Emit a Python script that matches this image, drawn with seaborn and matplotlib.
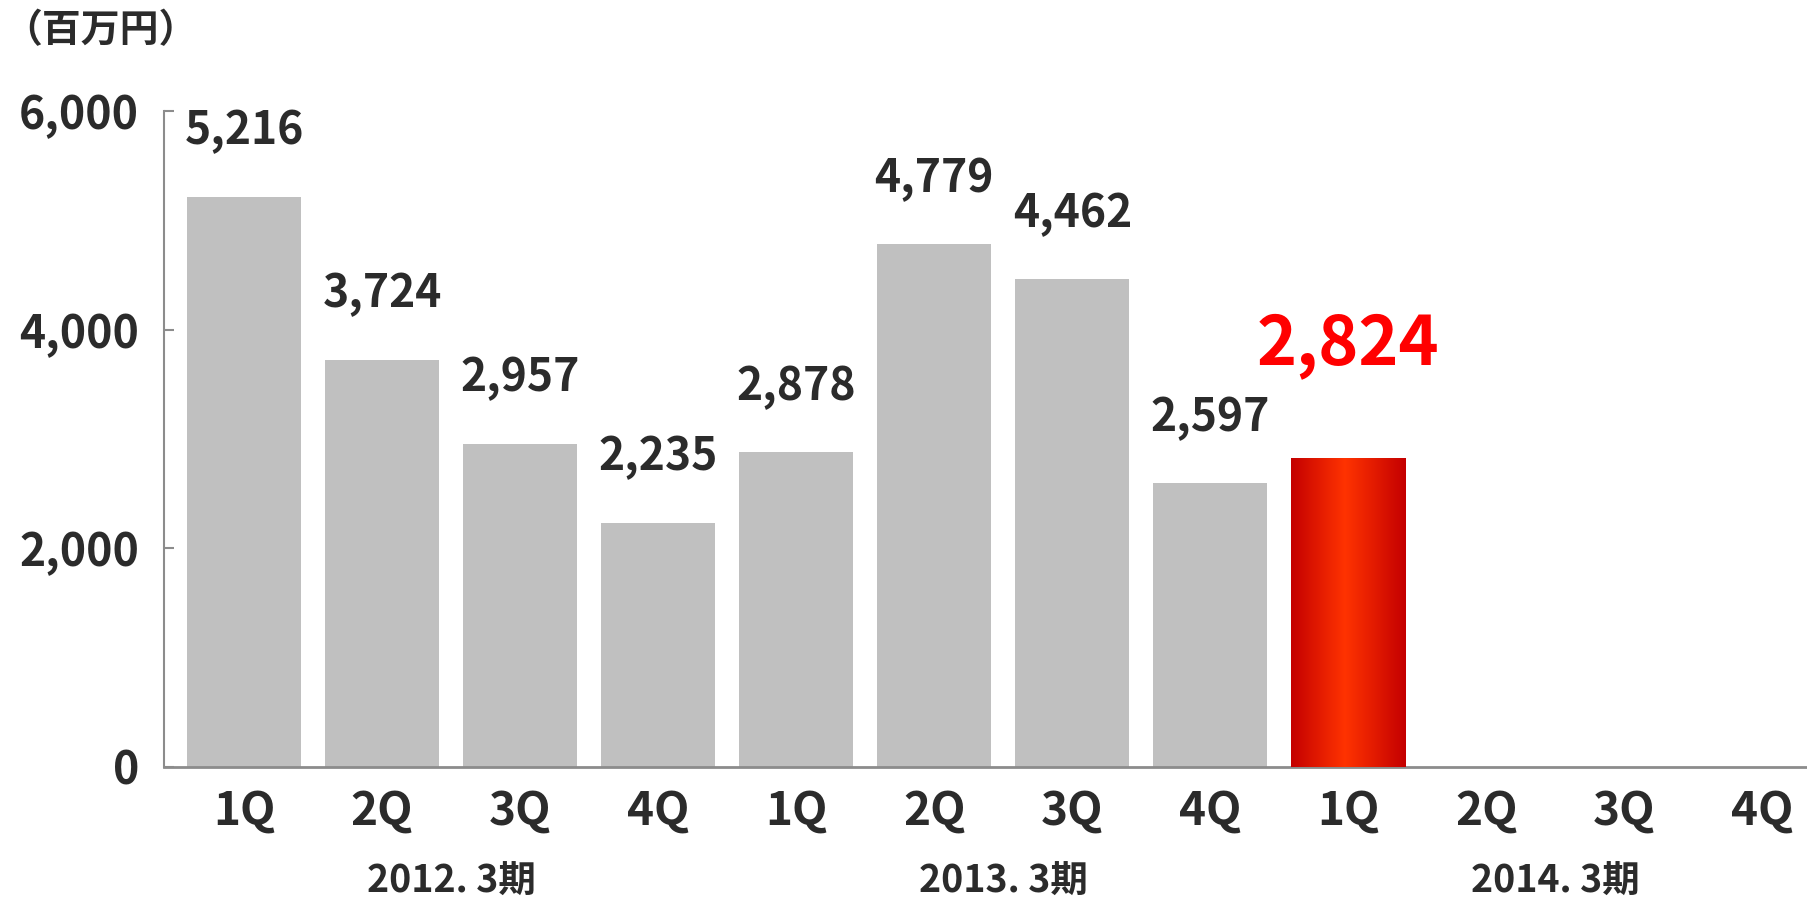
import numpy as np
import pandas as pd
import matplotlib
matplotlib.use("Agg")
import matplotlib.pyplot as plt
from matplotlib.colors import LinearSegmentedColormap
import seaborn as sns

# Quarterly figures (unit: million yen)
periods = ["2012. 3期", "2013. 3期", "2014. 3期"]
quarters = ["1Q", "2Q", "3Q", "4Q"]
values = [5216, 3724, 2957, 2235,
          2878, 4779, 4462, 2597,
          2824, np.nan, np.nan, np.nan]
highlight_index = 8
y_ticks = [0, 2000, 4000, 6000]
unit_label = "（百万円）"

sns.set_theme(style="white")
plt.rcParams["font.family"] = ["Noto Sans CJK JP", "DejaVu Sans"]
plt.rcParams["font.weight"] = "bold"

text_color = "#2b2b2b"
axis_gray = "#8c8c8c"
bar_gray = "#c0c0c0"

keys = [f"{p} {q}" for p in periods for q in quarters]
df = pd.DataFrame({
    "key": keys,
    "period": [p for p in periods for _ in quarters],
    "quarter": [q for _ in periods for q in quarters],
    "value": values,
})
palette = {k: bar_gray for k in keys}
palette[keys[highlight_index]] = "#e01a00"

fig = plt.figure(figsize=(18.08, 8.98), dpi=100)
ax = fig.add_axes([0.0907, 0.1459, 0.9093, 0.7305])

sns.barplot(data=df, x="key", y="value", hue="key", order=keys,
            palette=palette, width=0.826, legend=False, ax=ax,
            saturation=1, linewidth=0)

# Horizontal gradient fill on the highlighted bar
grad = LinearSegmentedColormap.from_list(
    "redgrad", [(0.0, "#c40000"), (0.47, "#ff3300"), (1.0, "#c40000")])
bar = [p for p in ax.patches if p.get_height() > 0][highlight_index]
x0, w, h = bar.get_x(), bar.get_width(), bar.get_height()
img = ax.imshow(np.linspace(0, 1, 256).reshape(1, -1), cmap=grad,
                extent=[x0, x0 + w, 0, h], aspect="auto", zorder=3,
                interpolation="bicubic")
img.set_clip_path(bar)

ax.set_xlim(-0.58, 11.33)
ax.set_ylim(0, 6000)
ax.set_yticks(y_ticks)
ax.set_yticklabels([f"{t:,}" for t in y_ticks])
ax.set_xticks(range(len(keys)))
ax.set_xticklabels(df["quarter"])
ax.set_xlabel("")
ax.set_ylabel("")

for side in ["top", "right"]:
    ax.spines[side].set_visible(False)
ax.spines["left"].set_color(axis_gray)
ax.spines["left"].set_linewidth(1.5)
ax.spines["bottom"].set_color(axis_gray)
ax.spines["bottom"].set_linewidth(2.0)

ax.tick_params(axis="y", direction="in", length=7, width=1.5, color=axis_gray,
               left=True, pad=18, labelsize=32, labelcolor=text_color)
ax.tick_params(axis="x", length=0, pad=15.5, labelsize=33, labelcolor=text_color)
for lbl in ax.get_xticklabels() + ax.get_yticklabels():
    lbl.set_fontweight("bold")

# Value labels above the bars
for i, v in enumerate(values):
    if np.isnan(v):
        continue
    if i == highlight_index:
        ax.annotate(f"{int(v):,}", (i, v), xytext=(0, 82),
                    textcoords="offset points", ha="center", va="center",
                    fontsize=49, fontweight="bold", color="#ff0000")
    else:
        ax.annotate(f"{int(v):,}", (i, v), xytext=(0, 47),
                    textcoords="offset points", ha="center", va="center",
                    fontsize=32, fontweight="bold", color=text_color)

# Fiscal period labels under each group of quarters
for g, p in enumerate(periods):
    center = g * len(quarters) + (len(quarters) - 1) / 2
    ax.text(center, -0.174, p, transform=ax.get_xaxis_transform(),
            ha="center", va="center", fontsize=27, fontweight="bold",
            color=text_color)

fig.text(0.002, 0.9655, unit_label, ha="left", va="center",
         fontsize=28, fontweight="bold", color=text_color)

fig.savefig("out.png", dpi=100)
